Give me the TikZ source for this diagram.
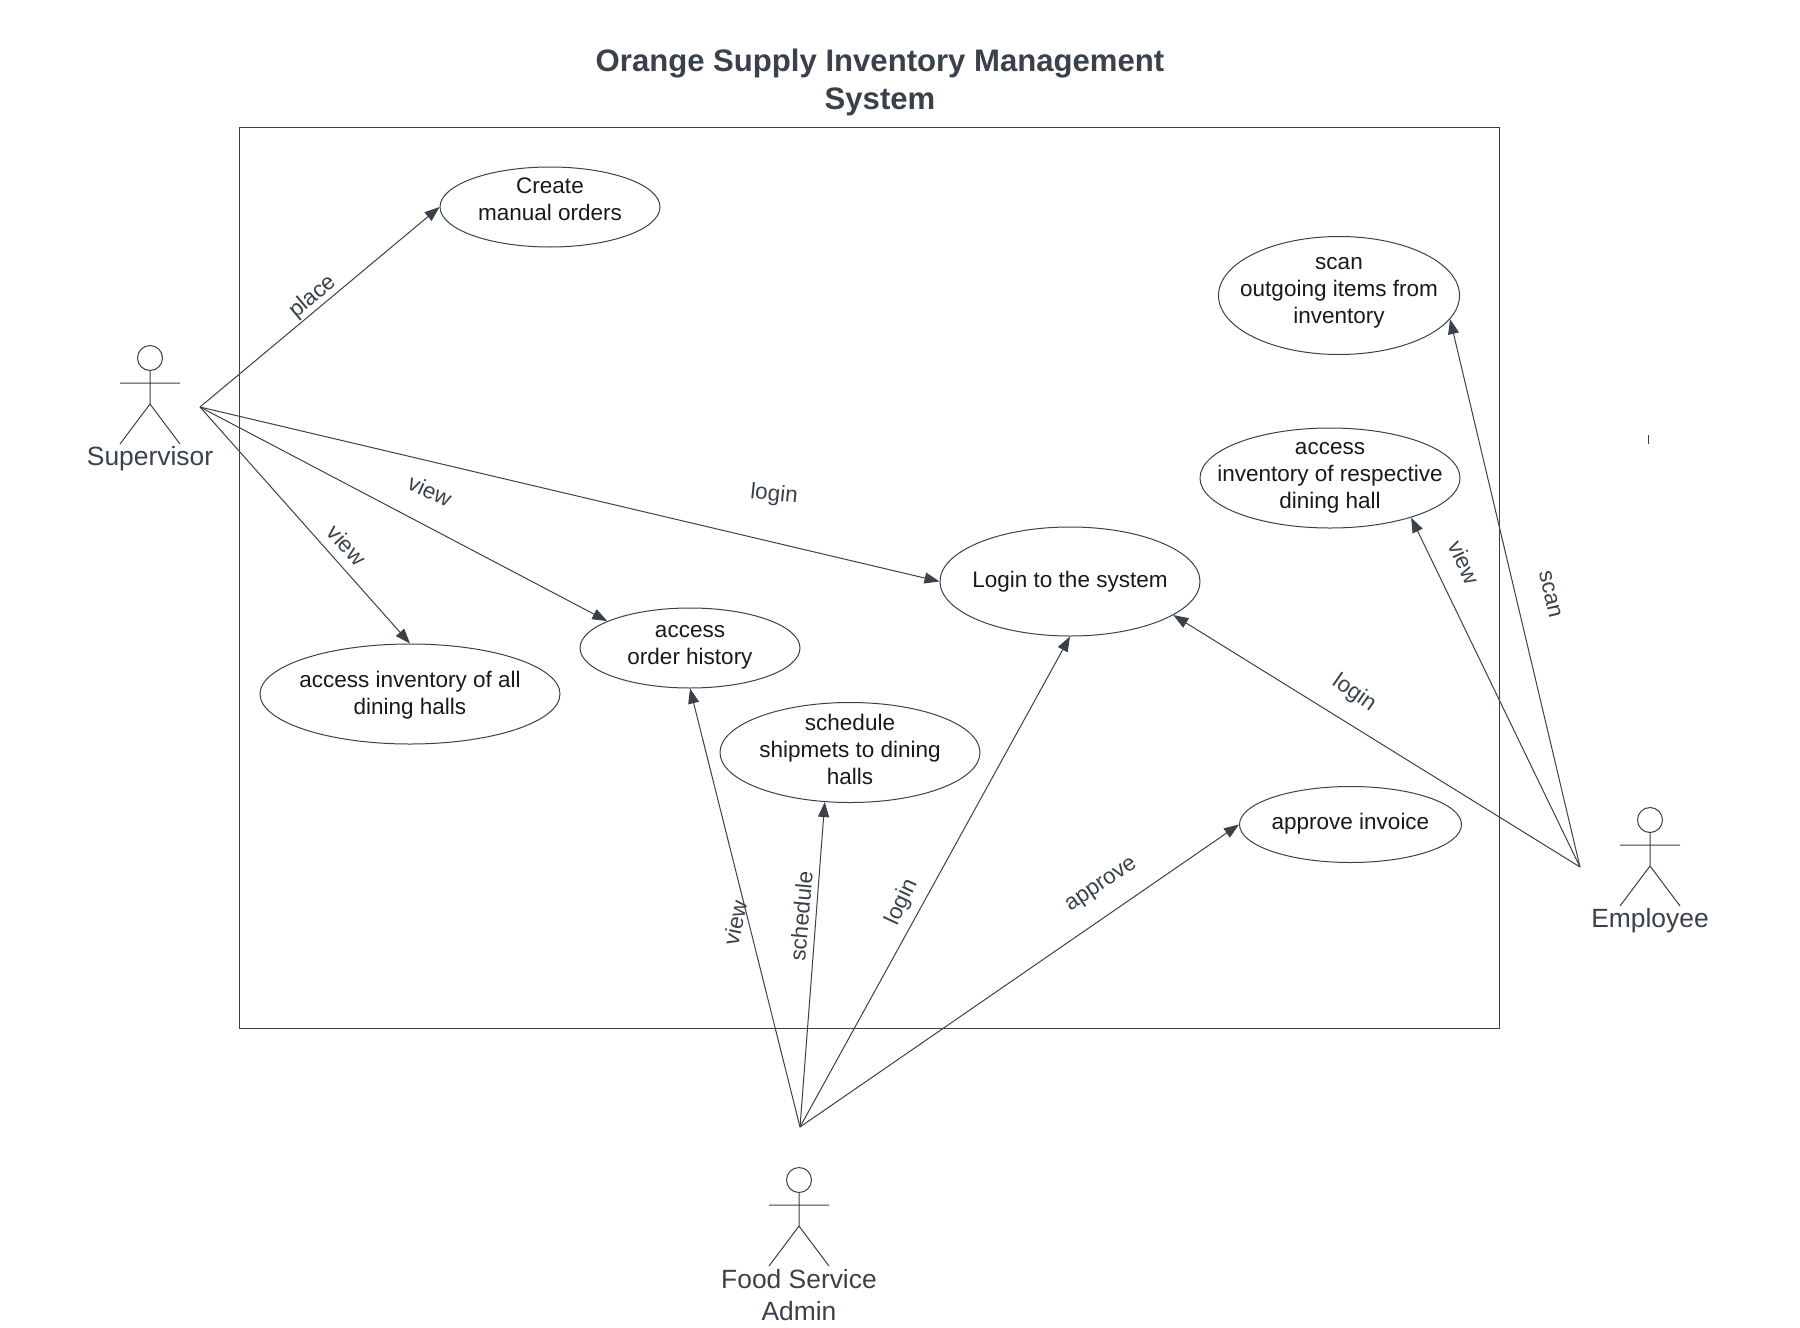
\documentclass[tikz,border=0pt]{standalone}
\usepackage{fontspec}
\setmainfont{Liberation Sans}
\usetikzlibrary{shapes.geometric,arrows.meta}
\definecolor{slate}{HTML}{3A414A}

\begin{document}
\begin{tikzpicture}[x=0.5pt, y=-0.5pt, line width=0.5pt, draw=slate,
	>={Triangle[length=7.5pt, width=5.5pt]},
	usecase/.style 2 args={draw, ellipse, inner sep=0pt, minimum width=#1pt, minimum height=#2pt},
	casetext/.style={align=center, text=black!90, font=\fontsize{11.25}{13.5}\selectfont},
	edgetext/.style={text=slate, font=\fontsize{11.25}{13.5}\selectfont},
	actortext/.style={align=center, text=slate, font=\fontsize{13.2}{16}\selectfont},
	actor/.pic={
		\draw (0,0) circle (6.25pt);
		\draw (0,12.5) -- (0,46) (-30,25) -- (30,25)
		      (-30,86) -- (0,46) -- (30,86);
	}]
	\useasboundingbox (0,0) rectangle (1800,1328);

	\node[align=center, text=slate, font=\fontsize{15.55}{19}\selectfont\bfseries] (title) at (880,82.5)
		{Orange Supply Inventory Management\\System};
	\draw (239.5,127.5) rectangle (1499.5,1028);
	\draw (1648.5,435) -- (1648.5,444);

	\node[usecase={110}{40}, label={[casetext, yshift=4pt]center:Create\\manual orders}] (create) at (550,207) {};
	\node[usecase={120.5}{59}, label={[casetext, yshift=1.2pt]center:scan\\outgoing items from\\inventory}] (scan) at (1339,295.5) {};
	\node[usecase={130}{50}, label={[casetext]center:access\\inventory of respective\\dining hall}] (respective) at (1330,478) {};
	\node[usecase={130}{54.5}, label={[casetext]center:Login to the system}] (login) at (1070,581.5) {};
	\node[usecase={110}{40}, label={[casetext, yshift=0.2pt]center:access\\order history}] (history) at (690,648) {};
	\node[usecase={150}{50}, label={[casetext, yshift=-0.7pt]center:access inventory of all\\dining halls}] (allhalls) at (410,694) {};
	\node[usecase={130}{50}, label={[casetext, yshift=1.5pt]center:schedule\\shipmets to dining\\halls}] (shipments) at (850,752.5) {};
	\node[usecase={111}{38}, label={[casetext, yshift=0.2pt]center:approve invoice}] (invoice) at (1350.5,824.5) {};

	\pic at (150,358) {actor};
	\pic at (1650,820) {actor};
	\pic at (799,1180) {actor};
	\node[actortext] (supervisor) at (150,459) {Supervisor};
	\node[actortext] (employee) at (1650,921) {Employee};
	\node[actortext] (admin) at (799,1295) {Food Service\\Admin};

	\coordinate (s) at (200,407);
	\coordinate (e) at (1580,867);
	\coordinate (f) at (800,1127);

	\path[->]
	(s) edge (create.west)
	    edge (login.west)
	    edge (history.162)
	    edge (allhalls.north)
	(f) edge (history.south)
	    edge (shipments.-117)
	    edge (login.south)
	    edge (invoice.west)
	(e) edge (login.-18)
	    edge (respective.-26)
	    edge (scan.-12);

	\node[edgetext, rotate=40] (placelab) at (313,297) {place};
	\node[edgetext, rotate=-6] (loginlab1) at (774,495) {login};
	\node[edgetext, rotate=-25] (viewlab1) at (430,491) {view};
	\node[edgetext, rotate=-48] (viewlab2) at (347,545) {view};
	\node[edgetext, rotate=78] (viewlab3) at (735,923) {view};
	\node[edgetext, rotate=85] (schedlab) at (801,916) {schedule};
	\node[edgetext, rotate=65] (loginlab2) at (902,902) {login};
	\node[edgetext, rotate=34] (approvelab) at (1102,886) {approve};
	\node[edgetext, rotate=-35] (loginlab3) at (1354,693) {login};
	\node[edgetext, rotate=-65] (viewlab4) at (1464.5,562) {view};
	\node[edgetext, rotate=-77] (scanlab) at (1550,594) {scan};
\end{tikzpicture}
\end{document}
